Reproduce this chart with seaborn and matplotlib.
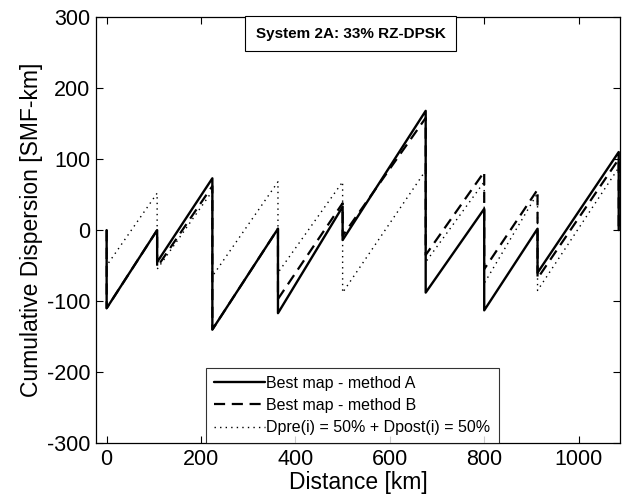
import numpy as np
import pandas as pd
import matplotlib
matplotlib.use("Agg")
import matplotlib.pyplot as plt
import seaborn as sns

# Cumulative dispersion vs distance
dist_a = [0, 0, 107, 107, 224, 224, 363, 363, 500, 500, 676, 676, 800, 800, 913, 913, 1085, 1085]
disp_a = [0, -110, 0, -45, 73, -140, 2, -117, 33, -14, 168, -88, 30, -113, 2, -60, 110, 0]

dist_b = [0, 0, 107, 107, 224, 224, 363, 363, 500, 500, 676, 676, 800, 800, 913, 913, 1085, 1085]
disp_b = [0, -110, 0, -52, 62, -140, 2, -97, 38, -8, 158, -35, 82, -55, 57, -68, 100, 0]

dist_c = [0, 0, 107, 107, 224, 224, 363, 363, 500, 500, 676, 676, 800, 800, 913, 913, 1085, 1085]
disp_c = [0, -50, 52, -55, 55, -65, 68, -60, 68, -88, 84, -45, 68, -75, 52, -85, 88, 0]

labels = ["Best map - method A", "Best map - method B",
          "Dpre(i) = 50% + Dpost(i) = 50%"]

df = pd.concat([
    pd.DataFrame({"Distance": dist_a, "Dispersion": disp_a, "Map": labels[0]}),
    pd.DataFrame({"Distance": dist_b, "Dispersion": disp_b, "Map": labels[1]}),
    pd.DataFrame({"Distance": dist_c, "Dispersion": disp_c, "Map": labels[2]}),
])

sns.set_style("ticks")
plt.rcParams['font.family'] = ['Liberation Sans', 'DejaVu Sans']
plt.rcParams['axes.unicode_minus'] = False
for k in ['text.color', 'axes.labelcolor', 'xtick.color', 'ytick.color']:
    plt.rcParams[k] = 'black'

fig = plt.figure(figsize=(6.22, 5.03), dpi=100)
ax = fig.add_axes([0.154, 0.119, 0.843, 0.847])

styles = {labels[0]: dict(ls="-", lw=1.7),
          labels[1]: dict(ls=(0, (5, 3)), lw=1.6),
          labels[2]: dict(ls=(0, (1, 3)), lw=1.0)}

for lab in labels:
    sub = df[df["Map"] == lab]
    sns.lineplot(data=sub, x="Distance", y="Dispersion", sort=False,
                 estimator=None, color="black", label=lab, ax=ax,
                 linestyle=styles[lab]["ls"], linewidth=styles[lab]["lw"])

ax.set_xlim(-23, 1088)
ax.set_ylim(-300, 300)
ax.set_xticks([0, 200, 400, 600, 800, 1000])
ax.set_yticks([-300, -200, -100, 0, 100, 200, 300])
ax.tick_params(direction="in", top=True, right=True, labelsize=15.5,
               length=5, width=0.8, pad=4)
for s in ax.spines.values():
    s.set_linewidth(0.9)
    s.set_color("black")

ax.set_xlabel("Distance [km]", fontsize=16.5, labelpad=1)
ax.set_ylabel("Cumulative Dispersion [SMF-km]", fontsize=16.5, labelpad=3)

leg = ax.legend(loc="lower center", bbox_to_anchor=(0.489, 0.0),
                fontsize=11.5, frameon=True, fancybox=False,
                handlelength=3.2, handletextpad=0.1, borderpad=0.5,
                labelspacing=0.45, borderaxespad=0)
leg.get_frame().set_edgecolor("black")
leg.get_frame().set_linewidth(0.8)

ax.text(0.486, 0.961, "System 2A: 33% RZ-DPSK", transform=ax.transAxes,
        ha="center", va="center", fontsize=11, fontweight="bold",
        bbox=dict(boxstyle="square,pad=0.7", fc="white", ec="black", lw=0.8))

fig.savefig("out.png", dpi=100)
